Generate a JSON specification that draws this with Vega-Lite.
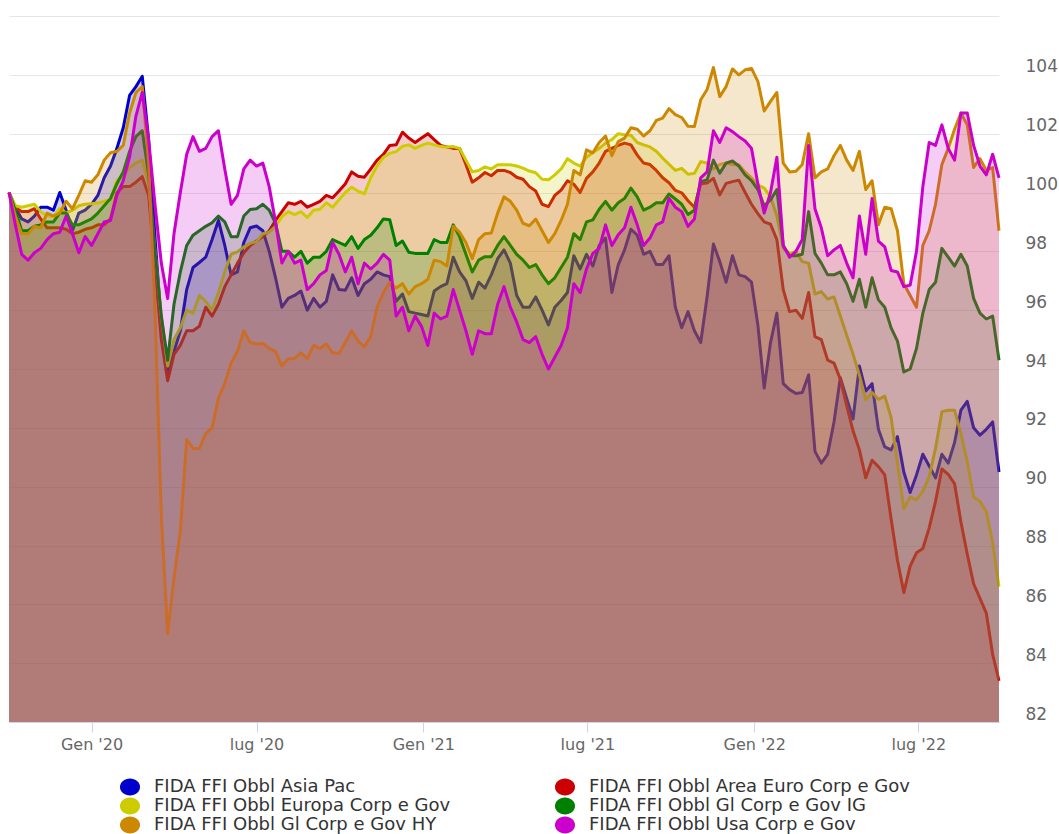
{
"$schema": "https://vega.github.io/schema/vega-lite/v6.json",
"width": 990, "height": 706,
"padding": {"left": 7, "top": 16, "right": 0, "bottom": 0},
"background": "white",
"config": {"view": {"stroke": null}, "font": "DejaVu Sans"},
"data": {"values": [
{"d":"2019-10-02","ap":100,"ae":100,"eu":100,"ig":100,"hy":100,"us":100},
{"d":"2019-10-09","ap":99.5,"ae":99.5,"eu":99.55,"ig":99.4,"hy":99.2,"us":98.9},
{"d":"2019-10-16","ap":99.1,"ae":99.35,"eu":99.5,"ig":98.7,"hy":98.6,"us":97.9},
{"d":"2019-10-23","ap":99.0,"ae":99.35,"eu":99.55,"ig":98.7,"hy":98.6,"us":97.7},
{"d":"2019-10-30","ap":99.2,"ae":99.45,"eu":99.6,"ig":98.85,"hy":98.85,"us":97.95},
{"d":"2019-11-06","ap":99.5,"ae":99.1,"eu":99.35,"ig":98.9,"hy":98.8,"us":98.1},
{"d":"2019-11-13","ap":99.5,"ae":98.8,"eu":99.2,"ig":99.0,"hy":99.3,"us":98.4},
{"d":"2019-11-20","ap":99.4,"ae":98.8,"eu":99.18,"ig":99.0,"hy":99.2,"us":98.6},
{"d":"2019-11-27","ap":100.0,"ae":98.8,"eu":99.45,"ig":99.3,"hy":99.3,"us":98.65},
{"d":"2019-12-04","ap":99.4,"ae":98.75,"eu":99.3,"ig":99.3,"hy":99.7,"us":99.2},
{"d":"2019-12-11","ap":98.7,"ae":98.6,"eu":99.4,"ig":98.9,"hy":99.45,"us":98.6},
{"d":"2019-12-18","ap":99.3,"ae":98.65,"eu":99.55,"ig":98.9,"hy":99.9,"us":97.95},
{"d":"2019-12-25","ap":99.4,"ae":98.75,"eu":99.6,"ig":99.0,"hy":100.4,"us":98.5},
{"d":"2020-01-01","ap":99.6,"ae":98.8,"eu":99.62,"ig":99.1,"hy":100.35,"us":98.2},
{"d":"2020-01-08","ap":99.9,"ae":98.9,"eu":99.64,"ig":99.3,"hy":100.6,"us":98.6},
{"d":"2020-01-15","ap":100.5,"ae":98.9,"eu":99.7,"ig":99.55,"hy":101.1,"us":99.0},
{"d":"2020-01-22","ap":100.9,"ae":99.1,"eu":99.75,"ig":99.8,"hy":101.35,"us":99.05},
{"d":"2020-01-29","ap":101.5,"ae":100.0,"eu":100.4,"ig":100.3,"hy":101.4,"us":99.9},
{"d":"2020-02-05","ap":102.2,"ae":100.2,"eu":100.6,"ig":100.7,"hy":101.6,"us":100.4},
{"d":"2020-02-12","ap":103.3,"ae":100.2,"eu":100.85,"ig":101.4,"hy":102.7,"us":101.2},
{"d":"2020-02-19","ap":103.6,"ae":100.35,"eu":101.0,"ig":101.9,"hy":103.4,"us":102.6},
{"d":"2020-02-26","ap":103.95,"ae":100.54,"eu":101.1,"ig":102.1,"hy":103.6,"us":103.4},
{"d":"2020-03-04","ap":101.8,"ae":99.9,"eu":100.3,"ig":100.6,"hy":101.0,"us":101.8},
{"d":"2020-03-11","ap":98.5,"ae":97.5,"eu":98.0,"ig":98.0,"hy":96.0,"us":99.6},
{"d":"2020-03-18","ap":95.5,"ae":95.0,"eu":95.8,"ig":95.8,"hy":89.0,"us":97.6},
{"d":"2020-03-25","ap":93.85,"ae":93.6,"eu":94.1,"ig":94.3,"hy":85.0,"us":96.4},
{"d":"2020-04-01","ap":94.6,"ae":94.5,"eu":95.0,"ig":96.2,"hy":86.9,"us":98.6},
{"d":"2020-04-08","ap":95.3,"ae":94.8,"eu":95.4,"ig":97.3,"hy":88.5,"us":100.0},
{"d":"2020-04-15","ap":96.7,"ae":95.3,"eu":96.0,"ig":98.2,"hy":91.6,"us":101.3},
{"d":"2020-04-22","ap":97.45,"ae":95.3,"eu":95.9,"ig":98.55,"hy":91.3,"us":101.9},
{"d":"2020-04-29","ap":97.62,"ae":95.45,"eu":96.5,"ig":98.7,"hy":91.3,"us":101.4},
{"d":"2020-05-06","ap":97.8,"ae":96.1,"eu":96.3,"ig":98.85,"hy":91.8,"us":101.5},
{"d":"2020-05-13","ap":98.4,"ae":95.8,"eu":96.0,"ig":98.97,"hy":92.0,"us":101.9},
{"d":"2020-05-20","ap":99.05,"ae":96.2,"eu":96.6,"ig":99.2,"hy":93.0,"us":102.1},
{"d":"2020-05-27","ap":98.2,"ae":96.8,"eu":97.3,"ig":99.0,"hy":93.5,"us":100.8},
{"d":"2020-06-03","ap":97.2,"ae":97.2,"eu":97.9,"ig":98.5,"hy":94.2,"us":99.6},
{"d":"2020-06-10","ap":97.3,"ae":97.6,"eu":97.98,"ig":98.5,"hy":94.6,"us":99.9},
{"d":"2020-06-17","ap":98.3,"ae":97.95,"eu":98.15,"ig":99.2,"hy":95.3,"us":100.8},
{"d":"2020-06-24","ap":98.8,"ae":98.2,"eu":98.27,"ig":99.42,"hy":94.9,"us":101.1},
{"d":"2020-07-01","ap":98.86,"ae":98.35,"eu":98.33,"ig":99.45,"hy":94.85,"us":100.9},
{"d":"2020-07-08","ap":98.7,"ae":98.5,"eu":98.6,"ig":99.6,"hy":94.87,"us":101.0},
{"d":"2020-07-15","ap":98.0,"ae":98.7,"eu":98.65,"ig":99.4,"hy":94.7,"us":100.2},
{"d":"2020-07-22","ap":97.1,"ae":99.05,"eu":98.85,"ig":98.95,"hy":94.6,"us":99.0},
{"d":"2020-07-29","ap":96.1,"ae":99.35,"eu":99.18,"ig":98.0,"hy":94.1,"us":97.6},
{"d":"2020-08-05","ap":96.4,"ae":99.65,"eu":99.35,"ig":98.0,"hy":94.35,"us":98.0},
{"d":"2020-08-12","ap":96.5,"ae":99.6,"eu":99.25,"ig":97.8,"hy":94.36,"us":97.6},
{"d":"2020-08-19","ap":96.65,"ae":99.7,"eu":99.35,"ig":98.0,"hy":94.55,"us":97.7},
{"d":"2020-08-26","ap":96.0,"ae":99.5,"eu":99.15,"ig":97.6,"hy":94.35,"us":96.7},
{"d":"2020-09-02","ap":96.4,"ae":99.6,"eu":99.4,"ig":97.8,"hy":94.8,"us":96.9},
{"d":"2020-09-09","ap":96.1,"ae":99.7,"eu":99.43,"ig":97.8,"hy":94.7,"us":97.2},
{"d":"2020-09-16","ap":96.3,"ae":99.9,"eu":99.65,"ig":98.0,"hy":94.85,"us":97.35},
{"d":"2020-09-23","ap":97.2,"ae":99.82,"eu":99.5,"ig":98.4,"hy":94.55,"us":98.3},
{"d":"2020-09-30","ap":96.7,"ae":100.05,"eu":99.75,"ig":98.3,"hy":94.53,"us":97.9},
{"d":"2020-10-07","ap":96.68,"ae":100.3,"eu":100.0,"ig":98.2,"hy":94.9,"us":97.3},
{"d":"2020-10-14","ap":97.1,"ae":100.7,"eu":100.18,"ig":98.5,"hy":95.3,"us":97.8},
{"d":"2020-10-21","ap":96.5,"ae":100.55,"eu":100.05,"ig":98.1,"hy":94.95,"us":96.9},
{"d":"2020-10-28","ap":96.9,"ae":100.52,"eu":99.95,"ig":98.4,"hy":94.76,"us":97.6},
{"d":"2020-11-04","ap":97.05,"ae":100.8,"eu":100.5,"ig":98.55,"hy":95.1,"us":97.4},
{"d":"2020-11-11","ap":97.3,"ae":101.1,"eu":100.9,"ig":98.8,"hy":96.1,"us":97.6},
{"d":"2020-11-18","ap":97.2,"ae":101.3,"eu":101.2,"ig":99.1,"hy":96.6,"us":97.9},
{"d":"2020-11-25","ap":97.14,"ae":101.6,"eu":101.33,"ig":99.07,"hy":96.95,"us":97.7},
{"d":"2020-12-02","ap":96.3,"ae":101.62,"eu":101.39,"ig":98.2,"hy":96.75,"us":95.8},
{"d":"2020-12-09","ap":96.55,"ae":102.05,"eu":101.57,"ig":98.35,"hy":96.9,"us":96.1},
{"d":"2020-12-16","ap":95.95,"ae":101.85,"eu":101.62,"ig":97.97,"hy":96.55,"us":95.3},
{"d":"2020-12-23","ap":95.9,"ae":101.7,"eu":101.5,"ig":97.93,"hy":96.8,"us":95.8},
{"d":"2020-12-30","ap":95.85,"ae":101.85,"eu":101.6,"ig":97.93,"hy":96.9,"us":95.45},
{"d":"2021-01-06","ap":95.8,"ae":102.0,"eu":101.68,"ig":97.93,"hy":97.05,"us":94.8},
{"d":"2021-01-13","ap":96.65,"ae":101.8,"eu":101.62,"ig":98.4,"hy":97.7,"us":95.9},
{"d":"2021-01-20","ap":96.8,"ae":101.6,"eu":101.56,"ig":98.3,"hy":97.65,"us":95.7},
{"d":"2021-01-27","ap":96.9,"ae":101.55,"eu":101.55,"ig":98.3,"hy":97.5,"us":95.8},
{"d":"2021-02-03","ap":97.8,"ae":101.5,"eu":101.56,"ig":98.9,"hy":98.85,"us":96.7},
{"d":"2021-02-10","ap":97.3,"ae":101.5,"eu":101.5,"ig":98.5,"hy":98.65,"us":96.0},
{"d":"2021-02-17","ap":97.0,"ae":100.95,"eu":101.1,"ig":97.9,"hy":98.3,"us":95.3},
{"d":"2021-02-24","ap":96.4,"ae":100.35,"eu":100.7,"ig":97.3,"hy":97.75,"us":94.5},
{"d":"2021-03-03","ap":96.95,"ae":100.5,"eu":100.75,"ig":97.7,"hy":98.4,"us":95.3},
{"d":"2021-03-10","ap":96.75,"ae":100.68,"eu":100.87,"ig":97.82,"hy":98.6,"us":95.2},
{"d":"2021-03-17","ap":97.2,"ae":100.57,"eu":100.8,"ig":97.82,"hy":98.62,"us":95.2},
{"d":"2021-03-24","ap":97.75,"ae":100.75,"eu":100.94,"ig":98.2,"hy":99.3,"us":96.2},
{"d":"2021-03-31","ap":98.05,"ae":100.75,"eu":100.94,"ig":98.5,"hy":99.85,"us":96.8},
{"d":"2021-04-07","ap":97.6,"ae":100.68,"eu":100.94,"ig":98.2,"hy":99.7,"us":96.1},
{"d":"2021-04-14","ap":96.5,"ae":100.52,"eu":100.9,"ig":97.9,"hy":99.4,"us":95.6},
{"d":"2021-04-21","ap":96.1,"ae":100.45,"eu":100.83,"ig":97.7,"hy":98.95,"us":95.0},
{"d":"2021-04-28","ap":96.1,"ae":100.2,"eu":100.73,"ig":97.45,"hy":98.87,"us":94.9},
{"d":"2021-05-05","ap":96.45,"ae":100.05,"eu":100.67,"ig":97.55,"hy":99.1,"us":95.1},
{"d":"2021-05-12","ap":96.0,"ae":99.6,"eu":100.45,"ig":97.2,"hy":98.7,"us":94.5},
{"d":"2021-05-19","ap":95.5,"ae":99.52,"eu":100.43,"ig":96.9,"hy":98.3,"us":94.0},
{"d":"2021-05-26","ap":96.1,"ae":99.9,"eu":100.6,"ig":97.1,"hy":98.6,"us":94.4},
{"d":"2021-06-02","ap":96.33,"ae":100.08,"eu":100.8,"ig":97.45,"hy":99.05,"us":94.8},
{"d":"2021-06-09","ap":96.6,"ae":100.4,"eu":101.15,"ig":97.8,"hy":99.6,"us":95.4},
{"d":"2021-06-16","ap":97.85,"ae":100.28,"eu":101.0,"ig":98.6,"hy":100.75,"us":96.9},
{"d":"2021-06-23","ap":97.4,"ae":100.0,"eu":100.9,"ig":98.4,"hy":100.6,"us":96.6},
{"d":"2021-06-30","ap":97.9,"ae":100.48,"eu":101.2,"ig":99.0,"hy":101.45,"us":97.4},
{"d":"2021-07-07","ap":97.5,"ae":100.7,"eu":101.36,"ig":99.07,"hy":101.35,"us":97.93},
{"d":"2021-07-14","ap":98.2,"ae":101.0,"eu":101.5,"ig":99.43,"hy":101.7,"us":98.1},
{"d":"2021-07-21","ap":98.45,"ae":101.4,"eu":101.68,"ig":99.7,"hy":101.92,"us":98.9},
{"d":"2021-07-28","ap":96.6,"ae":101.5,"eu":101.8,"ig":99.4,"hy":101.25,"us":98.2},
{"d":"2021-08-04","ap":97.54,"ae":101.6,"eu":102.0,"ig":99.65,"hy":101.73,"us":98.56},
{"d":"2021-08-11","ap":98.05,"ae":101.68,"eu":101.96,"ig":99.8,"hy":101.85,"us":98.8},
{"d":"2021-08-18","ap":98.75,"ae":101.62,"eu":101.95,"ig":100.15,"hy":102.2,"us":99.5},
{"d":"2021-08-25","ap":98.55,"ae":101.27,"eu":101.7,"ig":99.85,"hy":102.15,"us":98.9},
{"d":"2021-09-01","ap":97.9,"ae":101.0,"eu":101.62,"ig":99.4,"hy":101.92,"us":98.2},
{"d":"2021-09-08","ap":98.0,"ae":100.95,"eu":101.55,"ig":99.5,"hy":102.1,"us":98.45},
{"d":"2021-09-15","ap":97.55,"ae":100.75,"eu":101.4,"ig":99.65,"hy":102.45,"us":98.9},
{"d":"2021-09-22","ap":97.55,"ae":100.5,"eu":101.17,"ig":99.65,"hy":102.53,"us":99.0},
{"d":"2021-09-29","ap":97.85,"ae":100.33,"eu":100.96,"ig":99.95,"hy":102.85,"us":99.8},
{"d":"2021-10-06","ap":96.1,"ae":100.07,"eu":100.75,"ig":99.78,"hy":102.65,"us":99.5},
{"d":"2021-10-13","ap":95.4,"ae":99.99,"eu":100.82,"ig":99.6,"hy":102.55,"us":99.35},
{"d":"2021-10-20","ap":95.95,"ae":99.72,"eu":100.62,"ig":99.25,"hy":102.25,"us":98.85},
{"d":"2021-10-27","ap":95.3,"ae":99.5,"eu":100.65,"ig":99.4,"hy":102.24,"us":99.1},
{"d":"2021-11-03","ap":94.9,"ae":100.3,"eu":101.05,"ig":100.37,"hy":103.15,"us":100.5},
{"d":"2021-11-10","ap":96.45,"ae":100.32,"eu":101.0,"ig":100.43,"hy":103.5,"us":100.7},
{"d":"2021-11-17","ap":98.25,"ae":100.48,"eu":100.8,"ig":101.1,"hy":104.25,"us":102.1},
{"d":"2021-11-24","ap":97.65,"ae":99.92,"eu":100.95,"ig":100.66,"hy":103.26,"us":101.7},
{"d":"2021-12-01","ap":96.95,"ae":100.31,"eu":101.0,"ig":101.0,"hy":103.6,"us":102.2},
{"d":"2021-12-08","ap":97.85,"ae":100.37,"eu":100.95,"ig":101.07,"hy":104.2,"us":102.07},
{"d":"2021-12-15","ap":97.2,"ae":100.42,"eu":100.94,"ig":100.9,"hy":104.0,"us":101.9},
{"d":"2021-12-22","ap":97.14,"ae":100.0,"eu":100.7,"ig":100.6,"hy":104.17,"us":101.75},
{"d":"2021-12-29","ap":96.95,"ae":99.6,"eu":100.5,"ig":100.4,"hy":104.22,"us":101.5},
{"d":"2022-01-05","ap":95.5,"ae":99.28,"eu":100.25,"ig":100.1,"hy":103.78,"us":100.3},
{"d":"2022-01-12","ap":93.35,"ae":99.0,"eu":100.15,"ig":99.55,"hy":102.77,"us":99.3},
{"d":"2022-01-19","ap":94.9,"ae":98.92,"eu":99.85,"ig":99.75,"hy":103.1,"us":100.0},
{"d":"2022-01-26","ap":95.9,"ae":98.4,"eu":99.2,"ig":100.1,"hy":103.4,"us":101.2},
{"d":"2022-02-02","ap":93.5,"ae":96.7,"eu":98.1,"ig":98.2,"hy":101.0,"us":98.2},
{"d":"2022-02-09","ap":93.3,"ae":95.95,"eu":97.93,"ig":97.85,"hy":100.7,"us":97.8},
{"d":"2022-02-16","ap":93.17,"ae":96.0,"eu":97.99,"ig":97.85,"hy":100.72,"us":98.0},
{"d":"2022-02-23","ap":93.2,"ae":95.72,"eu":97.65,"ig":97.9,"hy":100.95,"us":98.4},
{"d":"2022-03-02","ap":93.8,"ae":96.6,"eu":97.6,"ig":99.35,"hy":102.0,"us":101.6},
{"d":"2022-03-09","ap":91.2,"ae":95.1,"eu":96.55,"ig":97.93,"hy":100.5,"us":99.45},
{"d":"2022-03-16","ap":90.8,"ae":95.0,"eu":96.63,"ig":97.6,"hy":100.7,"us":98.8},
{"d":"2022-03-23","ap":91.1,"ae":94.3,"eu":96.38,"ig":97.2,"hy":100.8,"us":97.85},
{"d":"2022-03-30","ap":92.2,"ae":94.2,"eu":96.45,"ig":97.2,"hy":101.25,"us":98.05},
{"d":"2022-04-06","ap":93.7,"ae":93.65,"eu":95.8,"ig":97.3,"hy":101.6,"us":98.2},
{"d":"2022-04-13","ap":93.0,"ae":92.75,"eu":95.15,"ig":96.9,"hy":101.1,"us":97.6},
{"d":"2022-04-20","ap":92.3,"ae":91.9,"eu":94.5,"ig":96.3,"hy":100.75,"us":97.1},
{"d":"2022-04-27","ap":94.1,"ae":91.25,"eu":93.8,"ig":97.05,"hy":101.4,"us":99.2},
{"d":"2022-05-04","ap":93.25,"ae":90.3,"eu":92.95,"ig":96.1,"hy":100.1,"us":97.9},
{"d":"2022-05-11","ap":93.5,"ae":90.9,"eu":93.2,"ig":97.1,"hy":100.4,"us":99.8},
{"d":"2022-05-18","ap":91.95,"ae":90.68,"eu":92.97,"ig":96.35,"hy":98.9,"us":98.35},
{"d":"2022-05-25","ap":91.35,"ae":90.4,"eu":93.08,"ig":96.1,"hy":99.5,"us":98.15},
{"d":"2022-06-01","ap":91.25,"ae":88.9,"eu":92.35,"ig":95.4,"hy":99.45,"us":97.35},
{"d":"2022-06-08","ap":91.7,"ae":87.5,"eu":90.8,"ig":94.95,"hy":98.7,"us":97.3},
{"d":"2022-06-15","ap":90.5,"ae":86.4,"eu":89.25,"ig":93.9,"hy":96.9,"us":96.8},
{"d":"2022-06-22","ap":89.8,"ae":87.3,"eu":89.65,"ig":94.0,"hy":96.5,"us":96.85},
{"d":"2022-06-29","ap":90.4,"ae":87.75,"eu":89.55,"ig":94.7,"hy":96.1,"us":98.0},
{"d":"2022-07-06","ap":91.1,"ae":87.9,"eu":89.85,"ig":95.9,"hy":98.2,"us":100.2},
{"d":"2022-07-13","ap":90.7,"ae":88.6,"eu":90.35,"ig":96.7,"hy":98.7,"us":101.7},
{"d":"2022-07-20","ap":90.3,"ae":89.5,"eu":91.3,"ig":96.95,"hy":99.6,"us":101.6},
{"d":"2022-07-27","ap":91.1,"ae":90.6,"eu":92.55,"ig":98.1,"hy":100.95,"us":102.3},
{"d":"2022-08-03","ap":90.8,"ae":90.42,"eu":92.6,"ig":97.8,"hy":101.5,"us":101.5},
{"d":"2022-08-10","ap":91.5,"ae":90.1,"eu":92.6,"ig":97.5,"hy":102.15,"us":101.1},
{"d":"2022-08-17","ap":92.6,"ae":88.8,"eu":91.8,"ig":97.9,"hy":102.7,"us":102.7},
{"d":"2022-08-24","ap":92.9,"ae":87.7,"eu":90.85,"ig":97.5,"hy":102.3,"us":102.7},
{"d":"2022-08-31","ap":92.0,"ae":86.7,"eu":89.65,"ig":96.4,"hy":100.85,"us":101.6},
{"d":"2022-09-07","ap":91.75,"ae":86.2,"eu":89.5,"ig":95.9,"hy":101.15,"us":100.9},
{"d":"2022-09-14","ap":91.95,"ae":85.7,"eu":89.15,"ig":95.7,"hy":100.75,"us":100.6},
{"d":"2022-09-21","ap":92.2,"ae":84.3,"eu":88.1,"ig":95.8,"hy":100.85,"us":101.3},
{"d":"2022-09-28","ap":90.5,"ae":83.4,"eu":86.6,"ig":94.3,"hy":98.7,"us":100.5}
]},
"transform": [{"fold": ["ap","ae","eu","ig","hy","us"], "as": ["s","v"]}],
"encoding": {
  "x": {"field": "d", "type": "temporal", "scale": {"nice": false},
    "axis": {"values": [{"year":2020,"month":1,"date":1},{"year":2020,"month":7,"date":1},{"year":2021,"month":1,"date":1},{"year":2021,"month":7,"date":1},{"year":2022,"month":1,"date":1},{"year":2022,"month":7,"date":1}],
      "labelExpr": "(month(datum.value)==0?'Gen':'lug')+\" '\"+timeFormat(datum.value,'%y')",
      "grid": false, "domainColor": "#ccd6eb", "tickColor": "#ccd6eb", "tickSize": 10,
      "labelFont": "DejaVu Sans", "labelFontSize": 16, "labelColor": "#666666",
      "labelBaseline": "alphabetic", "labelPadding": 17, "labelFlush": false, "title": null}},
  "y": {"field": "v", "type": "quantitative", "scale": {"domain": [82, 106], "zero": false, "nice": false},
    "axis": {"orient": "right", "values": [82,84,86,88,90,92,94,96,98,100,102,104,106],
      "labelExpr": "datum.value >= 106 ? '' : datum.label",
      "domain": false, "ticks": false, "gridColor": "#e6e6e6",
      "labelFont": "DejaVu Sans", "labelFontSize": 17, "labelColor": "#666666",
      "labelPadding": 26, "labelAlign": "left", "labelBaseline": "alphabetic", "labelOffset": -3, "title": null}}
},
"layer": [
  {"transform": [{"filter": "datum.s == 'ap'"}], "mark": {"type": "area", "fillOpacity": 0.2},
   "encoding": {"y2": {"datum": 82}, "color": {"field": "s", "type": "nominal",
     "scale": {"domain": ["ap","ae","eu","ig","hy","us"], "range": ["#0000cc","#cc0000","#cccc00","#008000","#cc8800","#cc00cc"]},
     "legend": {"orient": "none", "legendX": 112, "legendY": 762, "title": null, "columns": 2, "direction": "horizontal",
       "symbolType": "M-1.18,0A1.18,1,0,1,1,1.18,0A1.18,1,0,1,1,-1.18,0Z", "symbolSize": 289,
       "symbolOpacity": 1, "symbolStrokeWidth": 0,
       "labelFont": "DejaVu Sans", "labelFontSize": 18, "labelColor": "#333333", "labelOffset": 15, "labelLimit": 600,
       "rowPadding": 1, "columnPadding": 103,
       "labelExpr": "datum.value == 'ap' ? 'FIDA FFI Obbl Asia Pac' : datum.value == 'ae' ? 'FIDA FFI Obbl Area Euro Corp e Gov' : datum.value == 'eu' ? 'FIDA FFI Obbl Europa Corp e Gov' : datum.value == 'ig' ? 'FIDA FFI Obbl Gl Corp e Gov IG' : datum.value == 'hy' ? 'FIDA FFI Obbl Gl Corp e Gov HY' : 'FIDA FFI Obbl Usa Corp e Gov'"}}}},
  {"transform": [{"filter": "datum.s == 'ap'"}], "mark": {"type": "line", "color": "#0000cc", "strokeWidth": 3, "strokeJoin": "round"}, "encoding": {}},
  {"transform": [{"filter": "datum.s == 'ae'"}], "mark": {"type": "area", "fillOpacity": 0.2}, "encoding": {"y2": {"datum": 82}, "color": {"field": "s", "type": "nominal"}}},
  {"transform": [{"filter": "datum.s == 'ae'"}], "mark": {"type": "line", "color": "#cc0000", "strokeWidth": 3, "strokeJoin": "round"}, "encoding": {}},
  {"transform": [{"filter": "datum.s == 'eu'"}], "mark": {"type": "area", "fillOpacity": 0.2}, "encoding": {"y2": {"datum": 82}, "color": {"field": "s", "type": "nominal"}}},
  {"transform": [{"filter": "datum.s == 'eu'"}], "mark": {"type": "line", "color": "#cccc00", "strokeWidth": 3, "strokeJoin": "round"}, "encoding": {}},
  {"transform": [{"filter": "datum.s == 'ig'"}], "mark": {"type": "area", "fillOpacity": 0.2}, "encoding": {"y2": {"datum": 82}, "color": {"field": "s", "type": "nominal"}}},
  {"transform": [{"filter": "datum.s == 'ig'"}], "mark": {"type": "line", "color": "#008000", "strokeWidth": 3, "strokeJoin": "round"}, "encoding": {}},
  {"transform": [{"filter": "datum.s == 'hy'"}], "mark": {"type": "area", "fillOpacity": 0.2}, "encoding": {"y2": {"datum": 82}, "color": {"field": "s", "type": "nominal"}}},
  {"transform": [{"filter": "datum.s == 'hy'"}], "mark": {"type": "line", "color": "#cc8800", "strokeWidth": 3, "strokeJoin": "round"}, "encoding": {}},
  {"transform": [{"filter": "datum.s == 'us'"}], "mark": {"type": "area", "fillOpacity": 0.2}, "encoding": {"y2": {"datum": 82}, "color": {"field": "s", "type": "nominal"}}},
  {"transform": [{"filter": "datum.s == 'us'"}], "mark": {"type": "line", "color": "#cc00cc", "strokeWidth": 3, "strokeJoin": "round"}, "encoding": {}}
]
}
